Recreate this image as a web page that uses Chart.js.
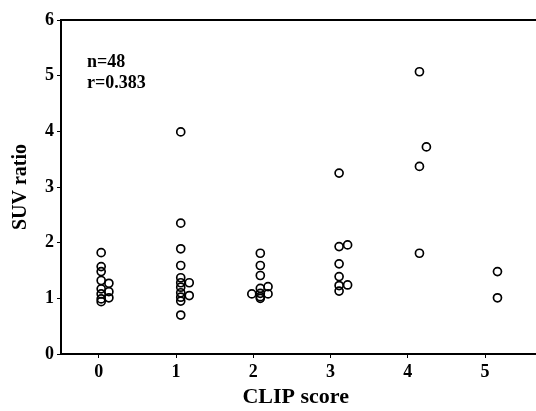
<!DOCTYPE html>
<html>
<head>
<meta charset="utf-8">
<script src="https://cdn.jsdelivr.net/npm/chart.js@4/dist/chart.umd.min.js"></script>
<style>
html,body{margin:0;padding:0;background:#fff;}
canvas{display:block;}
</style>
</head>
<body>
<canvas id="c" width="536" height="411"></canvas>
<script>
// CLIP score group positions (with the slight horizontal jitter seen in the figure)
const xCategoryTicks = [0, 1, 2, 3, 4, 5];
const yTicks = [0, 1, 2, 3, 4, 5, 6];

// SUV ratio per CLIP score; each point is [x, y]
const clip0 = [[0.03,1.82],[0.03,1.57],[0.03,1.48],[0.03,1.32],[0.03,1.17],[0.03,1.08],[0.03,0.99],[0.03,0.94],
               [0.13,1.27],[0.13,1.12],[0.13,1.01]];
const clip1 = [[1.06,3.99],[1.06,2.35],[1.06,1.89],[1.06,1.59],[1.06,1.37],[1.06,1.28],[1.06,1.20],[1.06,1.10],[1.06,1.02],[1.06,0.95],[1.06,0.70],
               [1.17,1.28],[1.17,1.05]];
const clip2 = [[2.09,1.81],[2.09,1.59],[2.09,1.41],[2.09,1.18],[2.09,1.09],[2.09,1.03],[2.09,1.00],
               [1.98,1.08],[2.19,1.21],[2.19,1.08]];
const clip3 = [[3.11,3.25],[3.11,1.93],[3.11,1.62],[3.11,1.39],[3.11,1.23],[3.11,1.13],
               [3.22,1.96],[3.22,1.24]];
const clip4 = [[4.15,5.07],[4.15,3.37],[4.15,1.81],[4.24,3.72]];
const clip5 = [[5.16,1.48],[5.16,1.01]];
const statsText = ["n=48", "r=0.383"];

const toPts = arr => arr.map(p => ({x: p[0], y: p[1]}));
const allPts = [].concat(toPts(clip0), toPts(clip1), toPts(clip2), toPts(clip3), toPts(clip4), toPts(clip5));

const FONT = "'Liberation Serif', 'Times New Roman', serif";

const framePlugin = {
  id: 'frame',
  afterDraw(chart) {
    const {ctx, chartArea} = chart;
    ctx.save();
    ctx.strokeStyle = '#000';
    ctx.lineWidth = 2;
    ctx.beginPath();
    // top frame line and extension of the bottom axis to the right edge
    ctx.moveTo(chartArea.left, chartArea.top);
    ctx.lineTo(chart.width, chartArea.top);
    ctx.moveTo(chartArea.right - 1, chartArea.bottom);
    ctx.lineTo(chart.width, chartArea.bottom);
    ctx.stroke();
    ctx.fillStyle = '#000';
    ctx.font = "bold 18px " + FONT;
    ctx.textBaseline = 'middle';
    ctx.textAlign = 'left';
    ctx.fillText(statsText[0], 87, 62);
    ctx.fillText(statsText[1], 87, 83);
    ctx.restore();
  }
};

new Chart(document.getElementById('c'), {
  type: 'scatter',
  data: {
    datasets: [{
      data: allPts,
      pointStyle: 'circle',
      pointRadius: 4,
      pointBorderWidth: 1.7,
      pointBorderColor: '#000',
      pointBackgroundColor: 'rgba(255,255,255,0)',
      pointHoverRadius: 4
    }]
  },
  options: {
    responsive: false,
    animation: false,
    layout: { padding: { top: 20, right: 0, left: 0, bottom: 0 } },
    plugins: { legend: { display: false }, tooltip: { enabled: false } },
    scales: {
      x: {
        type: 'linear',
        min: -0.49,
        max: 5.585,
        afterBuildTicks: s => { s.ticks = xCategoryTicks.map(v => ({value: v})); },
        afterFit: s => { s.paddingRight = 0; s.paddingLeft = 0; s.height = s.height - 6; },
        border: { display: true, color: '#000', width: 2 },
        grid: { drawOnChartArea: false, drawTicks: true, tickLength: 4, color: '#000', tickWidth: 1 },
        ticks: { color: '#000', font: { family: FONT, weight: 'bold', size: 18 }, padding: 4, maxRotation: 0 },
        title: { display: true, text: 'CLIP score', color: '#000', font: { family: FONT, weight: 'bold', size: 22 }, padding: { top: 3, bottom: 0 } }
      },
      y: {
        type: 'linear',
        min: 0,
        max: 6,
        afterBuildTicks: s => { s.ticks = yTicks.map(v => ({value: v})); },
        afterFit: s => { s.width = 61; },
        border: { display: true, color: '#000', width: 2 },
        grid: { drawOnChartArea: false, drawTicks: true, tickLength: 4, color: '#000', tickWidth: 1 },
        ticks: { color: '#000', font: { family: FONT, weight: 'bold', size: 18 }, padding: 3 },
        title: { display: true, text: 'SUV ratio', color: '#000', font: { family: FONT, weight: 'bold', size: 20 }, padding: { top: 9, bottom: 4 } }
      }
    }
  },
  plugins: [framePlugin]
});
</script>
</body>
</html>
